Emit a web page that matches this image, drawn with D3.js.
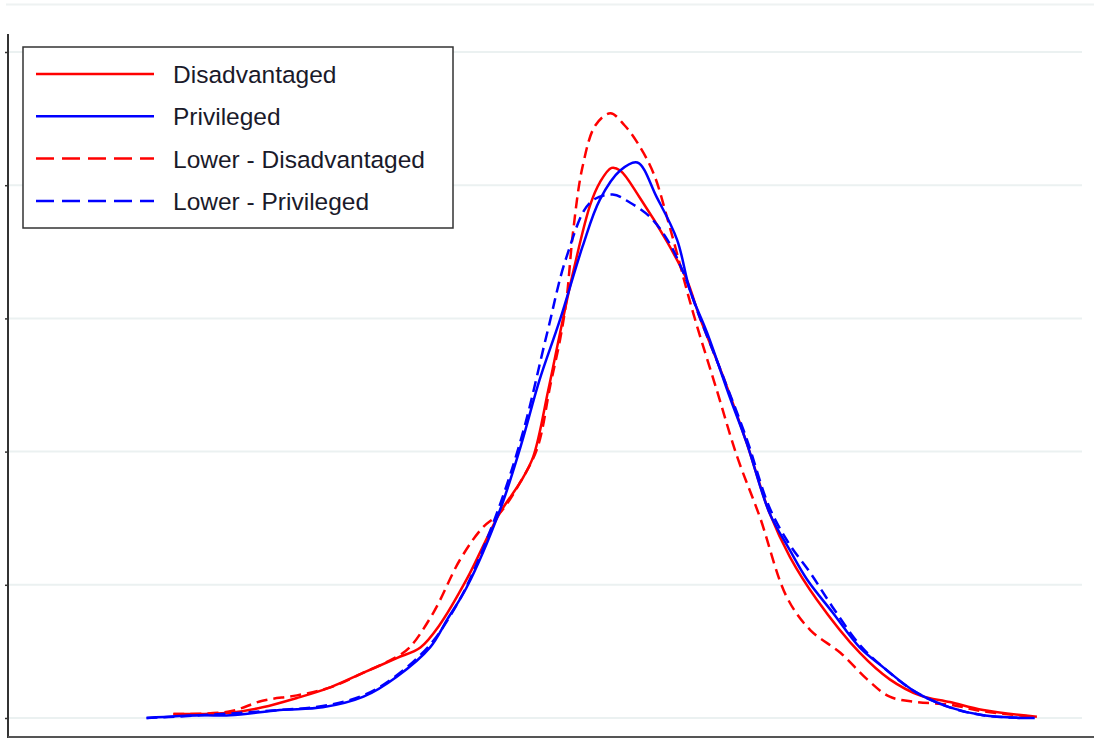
<!DOCTYPE html>
<html>
<head>
<meta charset="utf-8">
<script src="https://cdn.jsdelivr.net/npm/d3@7"></script>
<style>
  html, body { margin: 0; padding: 0; background: #fff; }
  svg { display: block; }
</style>
</head>
<body>
<div id="chart"></div>
<script>
// series names, legend order
const seriesNames = ['Disadvantaged', 'Privileged', 'Lower - Disadvantaged', 'Lower - Privileged']
const seriesColors = ['#ff0000', '#0000ff', '#ff0000', '#0000ff']
const seriesDashed = [false, false, true, true]
const yTicks = [0, 0.1, 0.2, 0.3, 0.4, 0.5]

// density curves, [x, density]
const disadvantaged = [
  [-3.46, 0.003], [-2.93, 0.004], [-2.63, 0.008], [-2.31, 0.015], [-2.00, 0.023],
  [-1.69, 0.034], [-1.38, 0.045], [-1.16, 0.053], [-0.98, 0.070], [-0.73, 0.104],
  [-0.42, 0.154], [-0.23, 0.177], [-0.11, 0.196], [0.03, 0.246], [0.14, 0.289],
  [0.26, 0.334], [0.42, 0.385], [0.51, 0.402], [0.62, 0.413], [0.70, 0.411],
  [0.88, 0.391], [1.14, 0.357], [1.32, 0.329], [1.44, 0.301], [1.66, 0.256],
  [1.88, 0.206], [2.09, 0.154], [2.28, 0.121], [2.53, 0.089], [2.93, 0.049],
  [3.21, 0.029], [3.49, 0.017], [3.77, 0.012], [4.08, 0.006], [4.58, 0.001]
]
const privileged = [
  [-3.71, 0.000], [-3.21, 0.002], [-2.93, 0.002], [-2.47, 0.006], [-2.07, 0.008],
  [-1.69, 0.016], [-1.38, 0.031], [-1.07, 0.053], [-0.91, 0.074], [-0.73, 0.098],
  [-0.42, 0.156], [-0.23, 0.203], [-0.05, 0.254], [0.14, 0.299], [0.35, 0.354],
  [0.51, 0.389], [0.70, 0.411], [0.86, 0.417], [1.04, 0.391], [1.23, 0.359],
  [1.35, 0.321], [1.51, 0.289], [1.72, 0.241], [1.88, 0.206], [2.09, 0.154],
  [2.28, 0.126], [2.44, 0.104], [2.68, 0.079], [2.93, 0.053], [3.15, 0.038],
  [3.46, 0.019], [3.77, 0.008], [4.08, 0.002], [4.45, 0.000], [4.56, 0.000]
]
const lowerDisadvantaged = [
  [-3.46, 0.003], [-2.93, 0.005], [-2.63, 0.013], [-2.31, 0.017], [-2.00, 0.023],
  [-1.69, 0.034], [-1.38, 0.046], [-1.26, 0.053], [-1.04, 0.079], [-0.79, 0.119],
  [-0.58, 0.143], [-0.42, 0.154], [-0.23, 0.177], [-0.07, 0.203], [0.05, 0.250],
  [0.14, 0.284], [0.20, 0.314], [0.26, 0.364], [0.35, 0.414], [0.47, 0.445],
  [0.61, 0.454], [0.74, 0.445], [0.86, 0.432], [1.01, 0.409], [1.16, 0.369],
  [1.38, 0.304], [1.60, 0.246], [1.79, 0.196], [2.00, 0.151], [2.25, 0.091],
  [2.47, 0.066], [2.75, 0.049], [3.00, 0.029], [3.21, 0.016], [3.46, 0.012],
  [3.77, 0.010], [4.08, 0.005], [4.54, 0.001]
]
const lowerPrivileged = [
  [-3.71, 0.000], [-3.21, 0.002], [-2.47, 0.006], [-2.07, 0.009], [-1.69, 0.017],
  [-1.38, 0.032], [-1.07, 0.055], [-0.88, 0.077], [-0.70, 0.104], [-0.42, 0.160],
  [-0.20, 0.216], [0.02, 0.289], [0.20, 0.346], [0.42, 0.387], [0.63, 0.393],
  [0.79, 0.387], [0.98, 0.376], [1.14, 0.359], [1.28, 0.336], [1.44, 0.301],
  [1.66, 0.256], [1.88, 0.209], [2.09, 0.158], [2.28, 0.130], [2.47, 0.109],
  [2.68, 0.083], [2.93, 0.055], [3.15, 0.038], [3.46, 0.019], [3.77, 0.008],
  [4.08, 0.002], [4.45, 0.000]
]
const seriesData = [disadvantaged, privileged, lowerDisadvantaged, lowerPrivileged]

const width = 1094
const height = 738
const left = 8
const right = 1082

const svg = d3.select('#chart').append('svg')
  .attr('width', width)
  .attr('height', height)

const x = d3.scaleLinear().domain([-5, 5]).range([left, right])
const y = d3.scaleLinear().domain([0, 0.5]).range([718, 52])

// faint frame line at the top
svg.append('line')
  .attr('x1', 6).attr('x2', width)
  .attr('y1', 4.5).attr('y2', 4.5)
  .attr('stroke', '#eef2f2')
  .attr('stroke-width', 2)

// horizontal grid
svg.append('g')
  .selectAll('line')
  .data(yTicks)
  .join('line')
  .attr('x1', left).attr('x2', right)
  .attr('y1', d => y(d)).attr('y2', d => y(d))
  .attr('stroke', '#ebf1f1')
  .attr('stroke-width', 2)

// left axis, ticks only
const yAxis = svg.append('g')
  .attr('transform', `translate(${left},0)`)
  .call(d3.axisLeft(y).tickValues(yTicks).tickSize(3).tickFormat(''))
yAxis.select('.domain').remove()
yAxis.selectAll('.tick line').attr('stroke', '#333').attr('stroke-width', 1.5)
svg.append('line')
  .attr('x1', left).attr('x2', left)
  .attr('y1', 34).attr('y2', height)
  .attr('stroke', '#333')
  .attr('stroke-width', 2)

// bottom axis line
svg.append('line')
  .attr('x1', left).attr('x2', width)
  .attr('y1', 737).attr('y2', 737)
  .attr('stroke', '#555')
  .attr('stroke-width', 2)

// curves
const line = d3.line()
  .x(d => x(d[0]))
  .y(d => y(d[1]))
  .curve(d3.curveCatmullRom.alpha(0.5))

const drawOrder = [0, 2, 1, 3]
svg.append('g')
  .selectAll('path')
  .data(drawOrder)
  .join('path')
  .attr('d', i => line(seriesData[i]))
  .attr('fill', 'none')
  .attr('stroke', i => seriesColors[i])
  .attr('stroke-width', 2.5)
  .attr('stroke-linejoin', 'round')
  .attr('stroke-dasharray', i => seriesDashed[i] ? '11,6' : null)

// legend
const legend = svg.append('g').attr('transform', 'translate(23,47)')
legend.append('rect')
  .attr('width', 430)
  .attr('height', 181)
  .attr('fill', '#fff')
  .attr('stroke', '#333')
  .attr('stroke-width', 1.5)
const item = legend.selectAll('.item')
  .data(seriesNames)
  .join('g')
  .attr('class', 'item')
  .attr('transform', (d, i) => `translate(0,${27 + i * 42.3})`)
item.append('line')
  .attr('x1', 13).attr('x2', 131)
  .attr('stroke', (d, i) => seriesColors[i])
  .attr('stroke-width', 2.5)
  .attr('stroke-dasharray', (d, i) => seriesDashed[i] ? '18,8' : null)
item.append('text')
  .attr('x', 150)
  .attr('y', 9)
  .attr('font-family', 'Liberation Sans, Arial, sans-serif')
  .attr('font-size', 24.5)
  .attr('fill', '#1a1a2a')
  .text(d => d)
</script>
</body>
</html>
